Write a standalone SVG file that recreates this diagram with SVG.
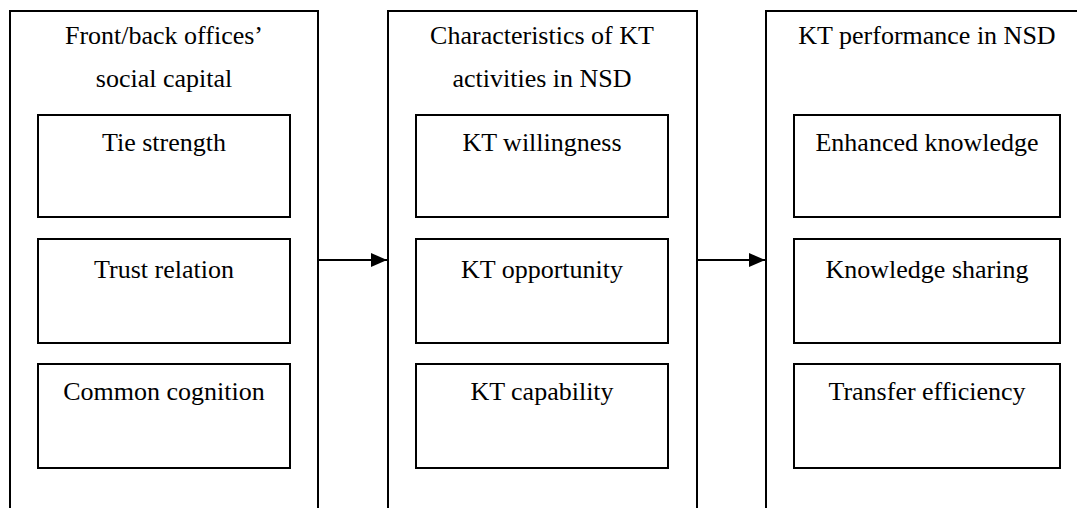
<svg xmlns="http://www.w3.org/2000/svg" width="1077" height="508" viewBox="0 0 1077 508">
<style>
.col{fill:none;stroke:#000;stroke-width:2}
.box{fill:#fff;stroke:#000;stroke-width:2}
text{font-family:"Liberation Serif","Times New Roman",serif;font-size:26px;fill:#000;text-anchor:middle}
.conn{stroke:#000;stroke-width:2;fill:none}
</style>
<defs>
<marker id="ah" markerUnits="userSpaceOnUse" markerWidth="16" markerHeight="14" refX="16" refY="7" orient="auto">
<path d="M0,0 L16,7 L0,14 Z" fill="#000"/>
</marker>
</defs>
<rect width="1077" height="508" fill="#fff"/>
<g id="col1">
<path class="col" d="M10,520 V11 H318 V520"/>
<text x="164" y="44">Front/back offices’</text>
<text x="164" y="87">social capital</text>
</g>
<g id="col2">
<path class="col" d="M388,520 V11 H697 V520"/>
<text x="542" y="44">Characteristics of KT</text>
<text x="542" y="87">activities in NSD</text>
</g>
<g id="col3">
<path class="col" d="M766,520 V11 H1090"/>
<text x="927" y="44">KT performance in NSD</text>
</g>
<g id="n1"><rect class="box" x="38" y="115" width="252" height="102"/><text x="164" y="151">Tie strength</text></g>
<g id="n2"><rect class="box" x="38" y="239" width="252" height="104"/><text x="164" y="278">Trust relation</text></g>
<g id="n3"><rect class="box" x="38" y="364" width="252" height="104"/><text x="164" y="400">Common cognition</text></g>
<g id="n4"><rect class="box" x="416" y="115" width="252" height="102"/><text x="542" y="151">KT willingness</text></g>
<g id="n5"><rect class="box" x="416" y="239" width="252" height="104"/><text x="542" y="278">KT opportunity</text></g>
<g id="n6"><rect class="box" x="416" y="364" width="252" height="104"/><text x="542" y="400">KT capability</text></g>
<g id="n7"><rect class="box" x="794" y="115" width="266" height="102"/><text x="927" y="151">Enhanced knowledge</text></g>
<g id="n8"><rect class="box" x="794" y="239" width="266" height="104"/><text x="927" y="278">Knowledge sharing</text></g>
<g id="n9"><rect class="box" x="794" y="364" width="266" height="104"/><text x="927" y="400">Transfer efficiency</text></g>
<g id="connectors">
<line class="conn" x1="318" y1="260" x2="387" y2="260" marker-end="url(#ah)"/>
<line class="conn" x1="697" y1="260" x2="765" y2="260" marker-end="url(#ah)"/>
</g>
</svg>
